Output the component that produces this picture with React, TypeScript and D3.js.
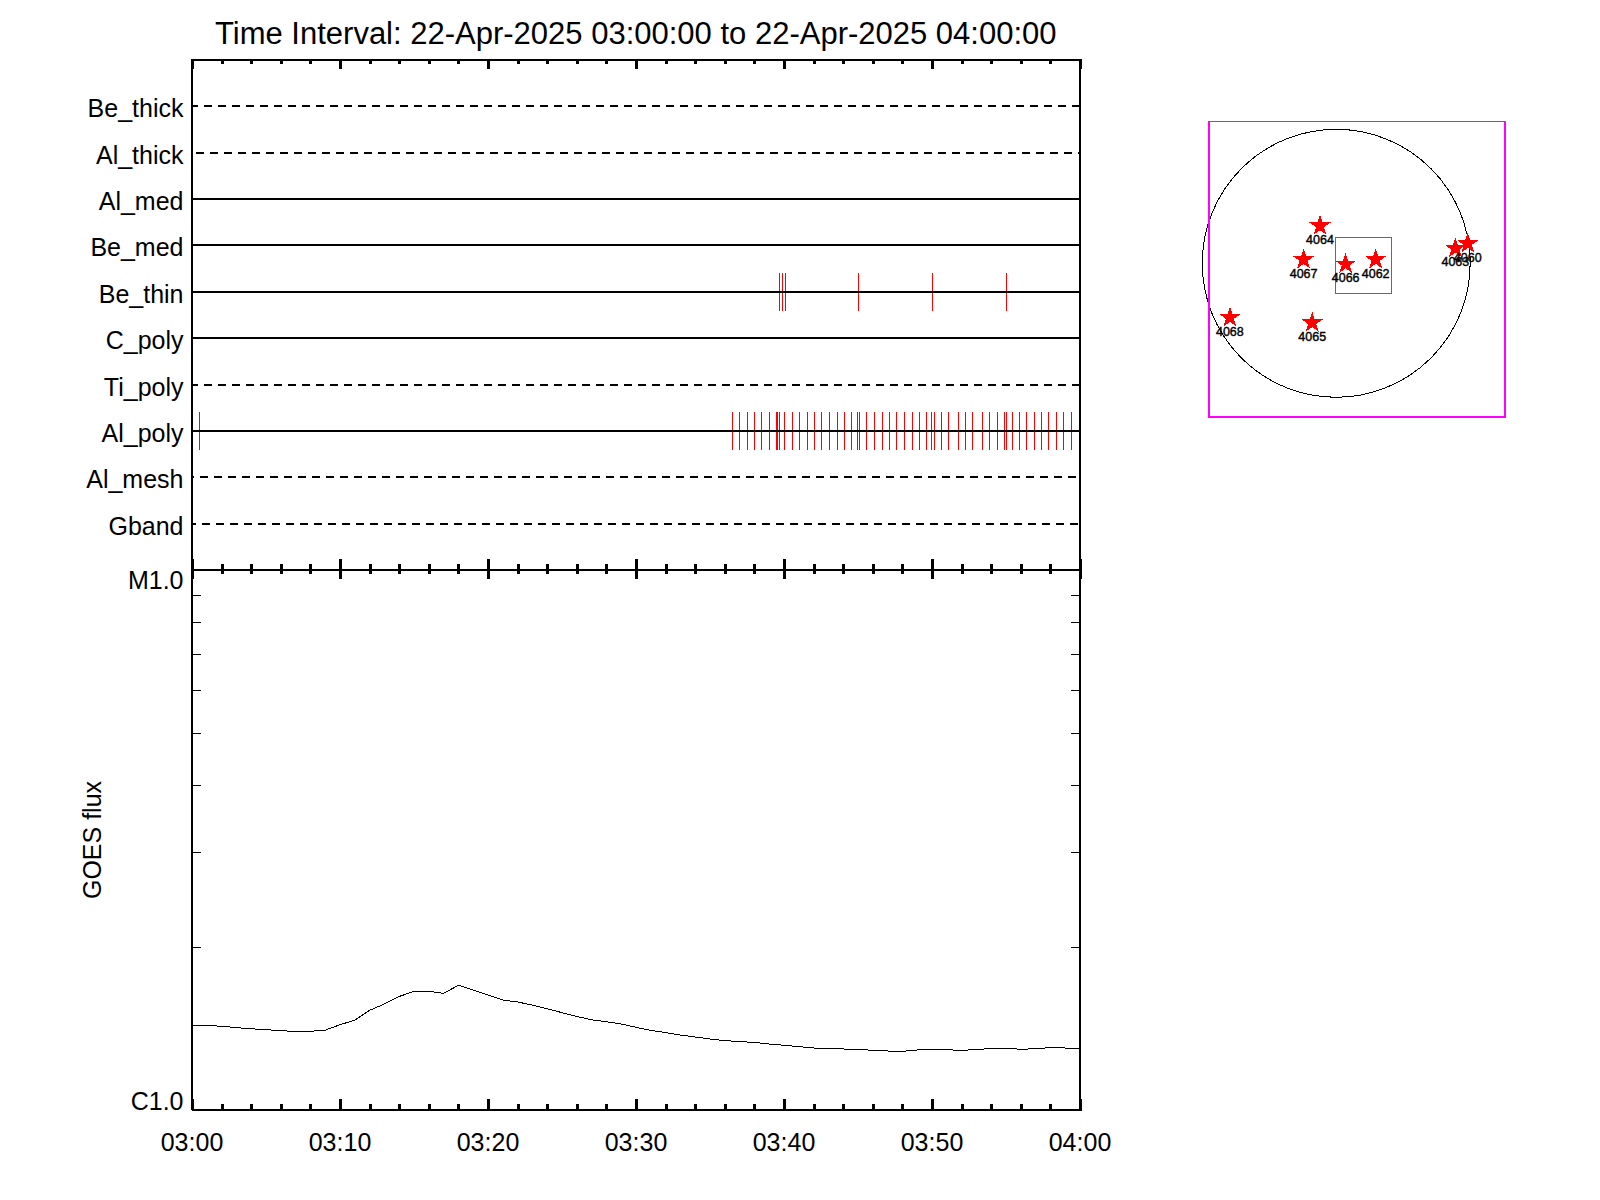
import { useRef, useEffect } from "react";
import * as d3 from "d3";

const TITLE = "Time Interval: 22-Apr-2025 03:00:00 to 22-Apr-2025 04:00:00";

const CHANNELS = ["Be_thick", "Al_thick", "Al_med", "Be_med", "Be_thin", "C_poly", "Ti_poly", "Al_poly", "Al_mesh", "Gband"];
const CHANNEL_DATA = [false, false, true, true, true, true, false, true, false, false];

const MAJOR_MINUTES = [0, 10, 20, 30, 40, 50, 60];
const MINOR_MINUTES = [2, 4, 6, 8, 12, 14, 16, 18, 22, 24, 26, 28, 32, 34, 36, 38, 42, 44, 46, 48, 52, 54, 56, 58];
const TIME_LABELS = ["03:00", "03:10", "03:20", "03:30", "03:40", "03:50", "04:00"];

// exposure times in minutes after 03:00
const BE_THIN_TIMES = [39.68, 39.89, 40.09, 45.03, 50.02, 55.02];
const AL_POLY_TIMES = [
  0.5, 36.51, 36.98, 37.52, 38.0, 38.47, 39.01, 39.48, 39.56, 39.64, 40.02, 40.56, 41.04, 41.58, 42.05, 42.52,
  43.06, 43.6, 44.08, 44.55, 44.95, 45.09, 45.56, 46.1, 46.64, 47.12, 47.59, 48.13, 48.67, 49.14, 49.62, 49.96,
  50.16, 50.63, 51.1, 51.78, 52.25, 52.72, 53.4, 53.87, 54.41, 54.88, 54.98, 55.43, 55.9, 56.37, 56.91, 57.39,
  57.86, 58.4, 58.87, 59.41,
];

// GOES flux per minute, in units of C1.0
const GOES_FLUX = [
  1.435, 1.435, 1.4289, 1.421, 1.4137, 1.4089, 1.4017, 1.3988, 1.3988, 1.4054, 1.4386, 1.4666, 1.5298, 1.5714,
  1.6225, 1.6589, 1.6589, 1.6448, 1.7018, 1.6681, 1.6329, 1.5984, 1.5849, 1.5647, 1.5403, 1.5142, 1.4899, 1.4691,
  1.4572, 1.443, 1.4228, 1.4041, 1.391, 1.3768, 1.3652, 1.3535, 1.3444, 1.3387, 1.334, 1.325, 1.3177, 1.3104,
  1.3026, 1.2993, 1.2971, 1.2937, 1.2905, 1.2861, 1.2844, 1.2915, 1.2932, 1.2932, 1.2893, 1.2943, 1.2998, 1.2998,
  1.296, 1.2982, 1.3054, 1.3026, 1.3015,
];
const FLUX_TICKS = [2, 3, 4, 5, 6, 7, 8, 9];

// active regions on the disk, heliocentric arcsec
const REGION_NAMES = ["4064", "4067", "4066", "4062", "4063", "4060", "4068", "4065"];
const REGION_X = [-115, -231, 67, 280, 845, 933, -754, -170];
const REGION_Y = [265, 26, -5, 26, 106, 139, -385, -422];

const SUN_RADIUS = 950;
const OUTER_BOX = [-902, 1197, -1090, 1007];
const INNER_BOX = [-3.5, 390.6, -213, 184];

const FONT = "'Liberation Sans', Arial, sans-serif";
const MAGENTA = "#ff00ff";
const DASH_OFFSET: Record<string, number> = { Be_thick: 2, Al_thick: 10, Ti_poly: 2, Al_mesh: 6, Gband: 4 };

export default function App() {
  const svgRef = useRef<SVGSVGElement>(null);

  useEffect(() => {
    if (!svgRef.current) return;
    const left = 192;
    const right = 1080;
    const top = 60;
    const mid = 570;
    const bottom = 1110;

    const svg = d3.select(svgRef.current);
    svg.selectAll("*").remove();
    svg.attr("font-family", FONT).attr("fill", "#000");

    const x = d3.scaleLinear().domain([0, 60]).range([left, right]);
    const yChan = d3.scaleLinear().domain([0, CHANNELS.length + 1]).range([top, mid]);
    const yFlux = d3.scaleLog().domain([1, 10]).range([bottom, mid]);

    svg
      .append("text")
      .attr("x", 215)
      .attr("y", 43.5)
      .style("font-size", "31px")
      .text(TITLE);

    // red exposure ticks sit under the channel lines
    const ticks = svg.append("g").attr("stroke", "#ff0000").attr("stroke-width", 1).attr("shape-rendering", "crispEdges");
    const drawExposures = (times: number[], channel: string) => {
      const cy = yChan(CHANNELS.indexOf(channel) + 1);
      ticks
        .selectAll(`.t-${channel}`)
        .data(times)
        .enter()
        .append("line")
        .attr("x1", (d) => Math.round(x(d)) + 0.5)
        .attr("x2", (d) => Math.round(x(d)) + 0.5)
        .attr("y1", cy - 19)
        .attr("y2", cy + 19);
    };
    drawExposures(BE_THIN_TIMES, "Be_thin");
    drawExposures(AL_POLY_TIMES, "Al_poly");

    CHANNELS.forEach((name, i) => {
      const cy = yChan(i + 1);
      const hasData = CHANNEL_DATA[i];
      svg
        .append("line")
        .attr("x1", left)
        .attr("x2", right)
        .attr("y1", cy)
        .attr("y2", cy)
        .attr("stroke", "#000")
        .attr("stroke-width", 2)
        .attr("shape-rendering", "crispEdges")
        .attr("stroke-dasharray", hasData ? null : "8 6")
        .attr("stroke-dashoffset", DASH_OFFSET[name] ?? 0);
      svg
        .append("text")
        .attr("x", 183.5)
        .attr("y", cy + 11)
        .attr("text-anchor", "end")
        .style("font-size", "25px")
        .text(name);
    });

    // one call per edge and tick class, the axes are inward facing
    const drawX = (y: number, dir: 1 | -1, values: number[], size: number) => {
      const axis = (dir === 1 ? d3.axisTop(x) : d3.axisBottom(x))
        .tickValues(values)
        .tickSizeOuter(0)
        .tickSize(size)
        .tickFormat(() => "");
      // d3 puts axis lines half a pixel down
      const g = svg.append("g").attr("transform", `translate(0,${y - 1})`).call(axis as any);
      g.selectAll("line").attr("stroke-width", 3).attr("stroke", "#000").attr("shape-rendering", "crispEdges");
      g.select(".domain").attr("stroke-width", 2).attr("stroke", "#000").attr("shape-rendering", "crispEdges");
      return g;
    };

    // ticks point into each panel
    [
      { y: top, dir: -1 as const },
      { y: mid, dir: 1 as const },
      { y: mid, dir: -1 as const },
      { y: bottom, dir: 1 as const },
    ].forEach(({ y, dir }) => {
      drawX(y, dir, MAJOR_MINUTES, 10);
      drawX(y, dir, MINOR_MINUTES, 5);
    });

    const labels = svg.append("g");
    labels
      .selectAll("text")
      .data(MAJOR_MINUTES)
      .enter()
      .append("text")
      .attr("x", (d) => x(d))
      .attr("y", 1151)
      .attr("text-anchor", "middle")
      .style("font-size", "25px")
      .text((_, i) => TIME_LABELS[i]);

    // frame sides
    [left, right].forEach((px) => {
      svg
        .append("line")
        .attr("x1", px)
        .attr("x2", px)
        .attr("y1", top - 1)
        .attr("y2", bottom)
        .attr("stroke", "#000")
        .attr("stroke-width", 2)
        .attr("shape-rendering", "crispEdges");
    });

    const fluxLeft = d3.axisRight(yFlux).tickValues(FLUX_TICKS).tickSize(9).tickFormat(() => "");
    const fluxRight = d3.axisLeft(yFlux).tickValues(FLUX_TICKS).tickSize(9).tickFormat(() => "");
    [
      { px: left, axis: fluxLeft },
      { px: right, axis: fluxRight },
    ].forEach(({ px, axis }) => {
      const g = svg.append("g").attr("transform", `translate(${px},0)`).call(axis as any);
      g.select(".domain").remove();
      g.selectAll("line").attr("stroke", "#000").attr("shape-rendering", "crispEdges");
    });

    svg
      .append("text")
      .attr("x", 183.5)
      .attr("y", 589)
      .attr("text-anchor", "end")
      .style("font-size", "25px")
      .text("M1.0");
    svg
      .append("text")
      .attr("x", 183.5)
      .attr("y", 1110)
      .attr("text-anchor", "end")
      .style("font-size", "25px")
      .text("C1.0");
    svg
      .append("text")
      .attr("transform", "translate(101,840) rotate(-90)")
      .attr("text-anchor", "middle")
      .style("font-size", "25px")
      .text("GOES flux");

    const line = d3
      .line<number>()
      .x((_, i) => x(i))
      .y((d) => yFlux(d));
    svg
      .append("path")
      .attr("d", line(GOES_FLUX))
      .attr("fill", "none")
      .attr("stroke", "#000")
      .attr("stroke-width", 1)
      .attr("shape-rendering", "crispEdges");

    // solar disk locator
    const sx = d3.scaleLinear().domain([OUTER_BOX[0], OUTER_BOX[1]]).range([1209, 1505]);
    const sy = d3.scaleLinear().domain([OUTER_BOX[2], OUTER_BOX[3]]).range([417, 121.3]);
    const disk = svg.append("g");
    disk
      .append("circle")
      .attr("cx", sx(0))
      .attr("cy", sy(0))
      .attr("r", sx(SUN_RADIUS) - sx(0))
      .attr("fill", "none")
      .attr("stroke", "#000")
      .attr("stroke-width", 1)
      .attr("shape-rendering", "crispEdges");
    const drawBox = (box: number[], width: number) => {
      disk
        .append("rect")
        .attr("x", sx(box[0]))
        .attr("y", sy(box[3]))
        .attr("width", sx(box[1]) - sx(box[0]))
        .attr("height", sy(box[2]) - sy(box[3]))
        .attr("fill", "none")
        .attr("stroke", MAGENTA)
        .attr("stroke-width", width)
        .attr("shape-rendering", "crispEdges");
    };
    drawBox(OUTER_BOX, 1.5);
    drawBox(INNER_BOX, 1.5);

    const star = d3.symbol().type(d3.symbolStar).size(140);
    REGION_NAMES.forEach((_, i) => {
      disk
        .append("path")
        .attr("d", star())
        .attr("transform", `translate(${sx(REGION_X[i])},${sy(REGION_Y[i])})`)
        .attr("fill", "#ff0000")
        .attr("shape-rendering", "crispEdges");
    });
    REGION_NAMES.forEach((name, i) => {
      disk
        .append("text")
        .attr("x", sx(REGION_X[i]))
        .attr("y", sy(REGION_Y[i]) + 18)
        .attr("text-anchor", "middle")
        .style("font-size", "12.5px")
        .attr("stroke", "#000")
        .attr("stroke-width", 0.4)
        .text(name);
    });
  }, []);

  return <svg ref={svgRef} width={1600} height={1200} style={{ position: "absolute", left: 0, top: 0, background: "#fff" }} />;
}
